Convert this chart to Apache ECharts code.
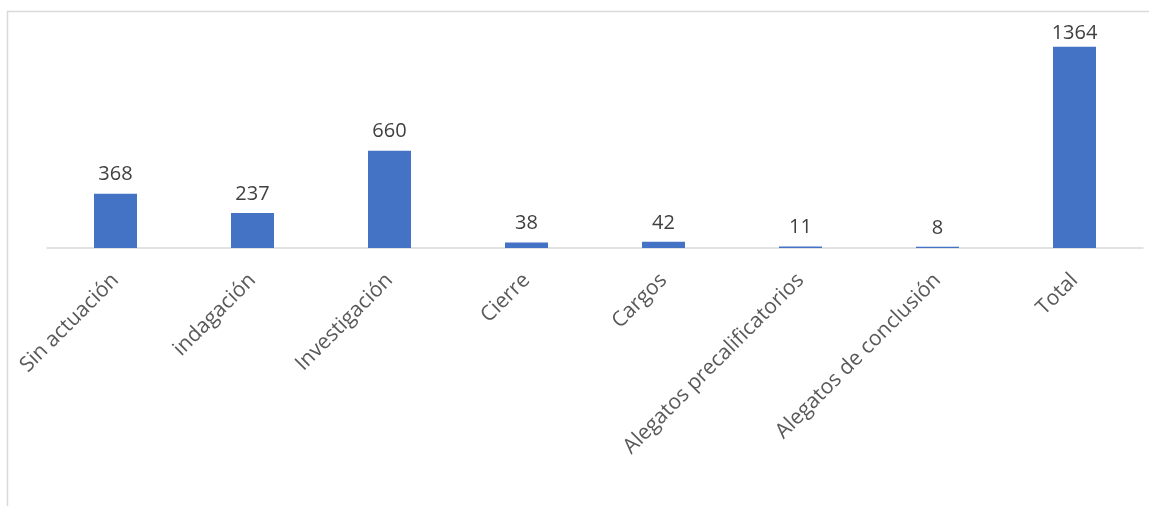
<!DOCTYPE html>
<html>
<head>
<meta charset="utf-8">
<script src="https://cdn.jsdelivr.net/npm/echarts@6/dist/echarts.min.js"></script>
<style>
html,body{margin:0;padding:0;background:#fff;}
#c{width:1149px;height:506px;}
</style>
</head>
<body>
<div id="c"></div>
<script>
const categories = ["Sin actuación","indagación","Investigación","Cierre","Cargos","Alegatos precalificatorios","Alegatos de conclusión","Total"];
const values = [368,237,660,38,42,11,8,1364];

// the tallest bar's label sits closer to the bar (it is pushed inside the plot area in the original)
const seriesData = values.map((v, i) =>
  i === values.length - 1 ? { value: v, label: { distance: 4 } } : v
);

const chart = echarts.init(document.getElementById('c'), null, {renderer:'canvas'});
chart.setOption({
  animation:false,
  backgroundColor:'#ffffff',
  graphic:[{
    type:'rect',
    shape:{x:7.5,y:11.5,width:1300,height:700},
    style:{fill:'none',stroke:'#d9d9d9',lineWidth:1.5},
    silent:true
  }],
  grid:{left:47,right:6,top:12,bottom:258,containLabel:false},
  xAxis:{
    type:'category',
    data:categories,
    axisLine:{show:true,lineStyle:{color:'#d9d9d9',width:1.5}},
    axisTick:{show:false},
    axisLabel:{
      rotate:45,
      interval:0,
      margin:29,
      color:'#595959',
      fontFamily:'Open Sans',
      fontSize:21
    }
  },
  yAxis:{
    type:'value',
    min:0,
    max:1600,
    show:false,
    splitLine:{show:false}
  },
  series:[{
    type:'bar',
    data:seriesData,
    barWidth:43,
    itemStyle:{color:'#4472c4'},
    label:{
      show:true,
      position:'top',
      distance:9,
      color:'#404040',
      fontFamily:'Open Sans',
      fontSize:20
    }
  }]
});
</script>
</body>
</html>
